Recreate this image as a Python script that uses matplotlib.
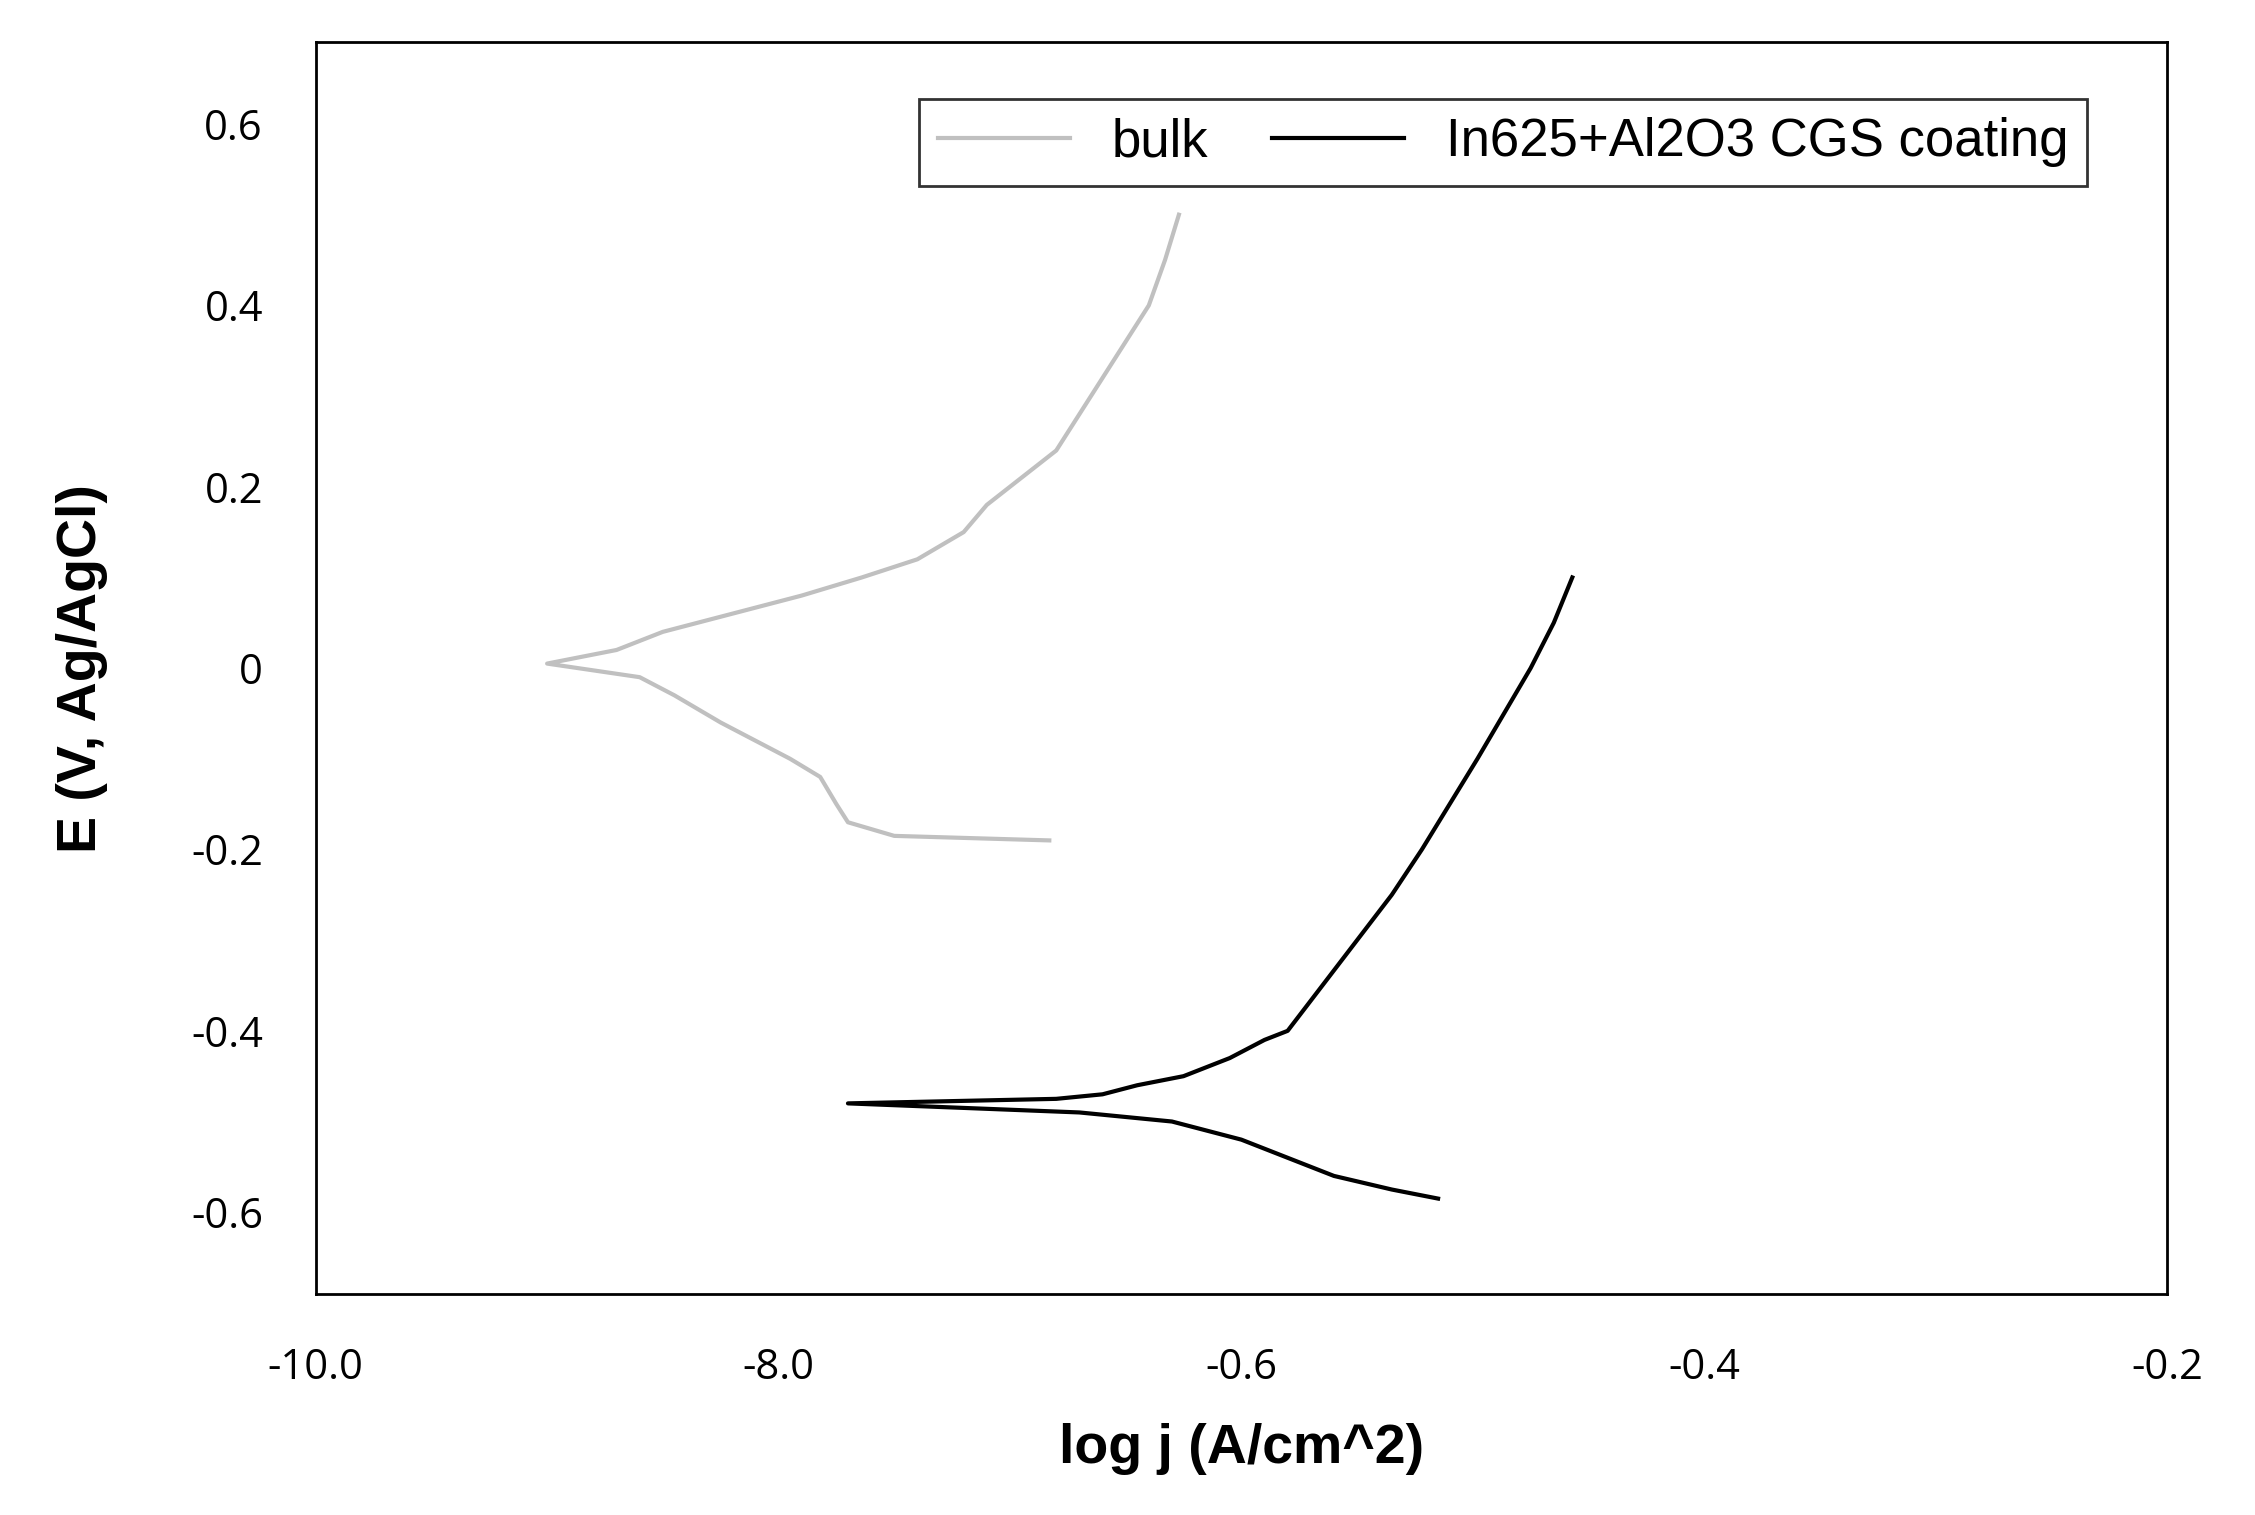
import matplotlib
matplotlib.use("Agg")
import matplotlib.pyplot as plt

bulk_E = [-0.19,-0.185,-0.17,-0.15,-0.12,-0.10,-0.08,-0.06,-0.03,-0.01,0.005,0.02,0.04,0.06,0.08,0.10,0.12,0.15,0.18,0.20,0.24,0.28,0.32,0.36,0.40,0.45,0.50]
bulk_x = [-6.83,-7.5,-7.7,-7.75,-7.82,-7.95,-8.1,-8.25,-8.45,-8.6,-9.0,-8.7,-8.5,-8.2,-7.9,-7.64,-7.4,-7.2,-7.1,-7.0,-6.8,-6.7,-6.6,-6.5,-6.4,-6.33,-6.27]
coat_E = [-0.585,-0.575,-0.56,-0.54,-0.52,-0.50,-0.49,-0.48,-0.475,-0.47,-0.46,-0.45,-0.43,-0.41,-0.40,-0.35,-0.30,-0.25,-0.20,-0.10,0.0,0.05,0.10]
coat_x = [-5.15,-5.35,-5.6,-5.8,-6.0,-6.3,-6.7,-7.7,-6.8,-6.6,-6.45,-6.25,-6.05,-5.9,-5.8,-5.65,-5.5,-5.35,-5.22,-4.98,-4.75,-4.65,-4.57]
xtick_pos = [-10, -8, -6, -4, -2]
xtick_labels = ["-10.0", "-8.0", "-0.6", "-0.4", "-0.2"]
ytick_pos = [-0.6, -0.4, -0.2, 0, 0.2, 0.4, 0.6]
ytick_labels = ["-0.6", "-0.4", "-0.2", "0", "0.2", "0.4", "0.6"]

plt.rcParams['font.family'] = ['Open Sans', 'DejaVu Sans']
fig = plt.figure(figsize=(22.55, 15.15), dpi=100)
ax = fig.add_axes([0.14, 0.146, 0.821, 0.826])
ax.plot(bulk_x, bulk_E, color='#c0c0c0', lw=3, label='bulk')
ax.plot(coat_x, coat_E, color='black', lw=3, label='In625+Al2O3 CGS coating')
ax.set_xlim(-10, -2)
ax.set_ylim(-0.69, 0.69)
ax.set_xticks(xtick_pos)
ax.set_xticklabels(xtick_labels, fontsize=30)
ax.set_yticks(ytick_pos)
ax.set_yticklabels(ytick_labels, fontsize=30)
ax.tick_params(axis='both', length=0, pad=38)
for s in ax.spines.values():
    s.set_linewidth(2)
ax.set_xlabel('log j (A/cm^2)', fontsize=40, fontweight='bold', family=['Liberation Sans'], labelpad=25)
ax.set_ylabel('E (V, Ag/AgCl)', fontsize=40, fontweight='bold', family=['Liberation Sans'], labelpad=60)
leg = ax.legend(loc='upper right', ncol=2, fontsize=38, frameon=True, fancybox=False,
                edgecolor='black', bbox_to_anchor=(0.971, 0.976), handlelength=2.5,
                columnspacing=1.2, borderpad=0.35, handletextpad=0.8)
leg.get_frame().set_linewidth(2)
for t in leg.get_texts():
    t.set_family(['Liberation Sans'])
fig.savefig('out.png', dpi=100, facecolor='white')
